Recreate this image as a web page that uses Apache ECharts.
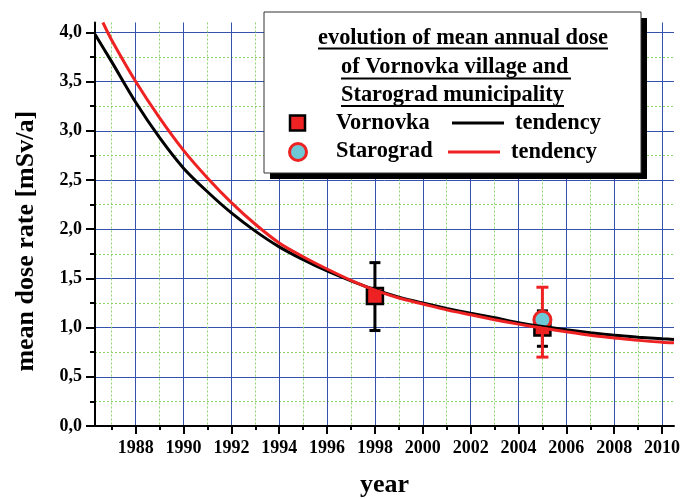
<!DOCTYPE html>
<html>
<head>
<meta charset="utf-8">
<script src="https://cdn.jsdelivr.net/npm/echarts@6/dist/echarts.min.js"></script>
<style>
  html, body { margin: 0; padding: 0; background: #fff; }
  #chart { width: 681px; height: 499px; }
</style>
</head>
<body>
<div id="chart"></div>
<script>
// tick positions
const majorYears = [1988, 1990, 1992, 1994, 1996, 1998, 2000, 2002, 2004, 2006, 2008, 2010];
const minorYears = [1987, 1989, 1991, 1993, 1995, 1997, 1999, 2001, 2003, 2005, 2007, 2009];
const majorDose = [0, 0.5, 1.0, 1.5, 2.0, 2.5, 3.0, 3.5, 4.0];
const minorDose = [0.25, 0.75, 1.25, 1.75, 2.25, 2.75, 3.25, 3.75];

// tendency curves
const blackYears = [1986.3, 1987, 1988, 1989, 1990, 1991, 1992, 1993, 1994, 1995, 1996, 1997, 1998,
  1999, 2000, 2001, 2002, 2003, 2004, 2005, 2006, 2007, 2008, 2009, 2010, 2010.5];
const blackDose = [3.98, 3.70, 3.29, 2.93, 2.62, 2.38, 2.165, 1.98, 1.82, 1.69, 1.575, 1.475, 1.385,
  1.31, 1.25, 1.195, 1.145, 1.10, 1.05, 1.01, 0.978, 0.948, 0.922, 0.903, 0.887, 0.88];
const redYears = [1986.63, 1987, 1988, 1989, 1990, 1991, 1992, 1993, 1994, 1995, 1996, 1997, 1998,
  1999, 2000, 2001, 2002, 2003, 2004, 2005, 2006, 2007, 2008, 2009, 2010, 2010.5];
const redDose = [4.10, 3.92, 3.50, 3.13, 2.80, 2.52, 2.27, 2.05, 1.86, 1.72, 1.595, 1.48, 1.38,
  1.30, 1.24, 1.18, 1.13, 1.08, 1.035, 0.995, 0.957, 0.922, 0.895, 0.87, 0.852, 0.845];

// measured points with error bars
const vornovkaYears = [1998, 2005];
const vornovkaDose = [1.32, 1.0];
const vornovkaLow = [0.97, 0.81];
const vornovkaHigh = [1.66, 1.17];
const starogradYears = [2005];
const starogradDose = [1.08];
const starogradLow = [0.70];
const starogradHigh = [1.41];

const FONT = 'Liberation Serif';
const pairs = (xs, ys) => xs.map((x, i) => [x, ys[i]]);
const bars = (xs, lo, hi) => xs.map((x, i) => [x, lo[i], hi[i]]);

function errorBar(color, cap) {
  return function (params, api) {
    const lo = api.coord([api.value(0), api.value(1)]);
    const hi = api.coord([api.value(0), api.value(2)]);
    const style = { stroke: color, lineWidth: 3 };
    return {
      type: 'group',
      children: [
        { type: 'line', shape: { x1: lo[0], y1: lo[1], x2: hi[0], y2: hi[1] }, style },
        { type: 'line', shape: { x1: lo[0] - cap, y1: lo[1], x2: lo[0] + cap, y2: lo[1] }, style },
        { type: 'line', shape: { x1: hi[0] - cap, y1: hi[1], x2: hi[0] + cap, y2: hi[1] }, style }
      ]
    };
  };
}

const labelStyle = { fontFamily: FONT, fontWeight: 'bold', fontSize: 18, color: '#000' };
const majorGrid = { show: true, lineStyle: { color: '#3550ad', width: 1 } };
const minorGrid = { show: true, lineStyle: { color: '#8ed46e', width: 1, type: [2, 2] } };

const txt = (x, y, text, size) => ({
  type: 'text', x, y, z: 102,
  style: { text, fontFamily: FONT, fontWeight: 'bold', fontSize: size, fill: '#000',
    align: 'left', verticalAlign: 'middle' }
});
const seg = (x1, y1, x2, y2, color, w) => ({
  type: 'line', z: 102, shape: { x1, y1, x2, y2 }, style: { stroke: color, lineWidth: w }
});

const options = {
  animation: false,
  backgroundColor: '#fff',
  grid: { left: 95, right: 7, top: 22.5, bottom: 73, outerBoundsMode: 'none', containLabel: false },
  xAxis: [
    {
      type: 'value', min: 1986.3, max: 2010.5, position: 'bottom',
      name: 'year', nameLocation: 'middle', nameGap: 46,
      nameTextStyle: { fontFamily: FONT, fontWeight: 'bold', fontSize: 26, color: '#000' },
      axisLine: { show: true, onZero: false, lineStyle: { color: '#000', width: 2 } },
      axisTick: { show: true, customValues: majorYears, length: 8, lineStyle: { color: '#000', width: 2 } },
      axisLabel: Object.assign({ customValues: majorYears, margin: 13, formatter: v => String(v) }, labelStyle),
      splitLine: majorGrid
    },
    {
      type: 'value', min: 1986.3, max: 2010.5, position: 'bottom',
      axisLine: { show: false },
      axisTick: { show: true, customValues: minorYears, length: 4, lineStyle: { color: '#000', width: 2 } },
      axisLabel: { show: false },
      splitLine: minorGrid
    }
  ],
  yAxis: [
    {
      type: 'value', min: 0, max: 4.1, position: 'left',
      name: 'mean dose rate [mSv/a]', nameLocation: 'middle', nameGap: 56,
      nameTextStyle: { fontFamily: FONT, fontWeight: 'bold', fontSize: 26, color: '#000',
        padding: [0, 34, 0, 0] },
      axisLine: { show: true, onZero: false, lineStyle: { color: '#000', width: 2 } },
      axisTick: { show: true, customValues: majorDose, length: 9, lineStyle: { color: '#000', width: 2 } },
      axisLabel: Object.assign({
        customValues: majorDose, margin: 13,
        formatter: v => v.toFixed(1).replace('.', ',')
      }, labelStyle),
      splitLine: majorGrid
    },
    {
      type: 'value', min: 0, max: 4.1, position: 'left',
      axisLine: { show: false },
      axisTick: { show: true, customValues: minorDose, length: 5, lineStyle: { color: '#000', width: 2 } },
      axisLabel: { show: false },
      splitLine: minorGrid
    }
  ],
  series: [
    {
      name: 'Vornovka error', type: 'custom', z: 3,
      renderItem: errorBar('#000', 5.5),
      data: bars(vornovkaYears, vornovkaLow, vornovkaHigh)
    },
    {
      name: 'Vornovka', type: 'scatter', z: 4,
      symbol: 'rect', symbolSize: 16,
      itemStyle: { color: '#ee2222', borderColor: '#000', borderWidth: 2.5, opacity: 1 },
      data: pairs(vornovkaYears, vornovkaDose)
    },
    {
      name: 'Starograd error', type: 'custom', z: 5,
      renderItem: errorBar('#ee2222', 6),
      data: bars(starogradYears, starogradLow, starogradHigh)
    },
    {
      name: 'Starograd', type: 'scatter', z: 6,
      symbol: 'circle', symbolSize: 17,
      itemStyle: { color: '#6ec8d6', borderColor: '#ee2222', borderWidth: 3, opacity: 1 },
      data: pairs(starogradYears, starogradDose)
    },
    {
      name: 'Vornovka tendency', type: 'line', z: 7, smooth: 0.3, showSymbol: false,
      clip: true, lineStyle: { color: '#000', width: 3 },
      data: pairs(blackYears, blackDose)
    },
    {
      name: 'Starograd tendency', type: 'line', z: 8, smooth: 0.3, showSymbol: false,
      clip: true, lineStyle: { color: '#ee2222', width: 3 },
      data: pairs(redYears, redDose)
    }
  ],
  graphic: [
    // legend box with drop shadow
    { type: 'rect', z: 100, shape: { x: 270, y: 18, width: 377, height: 161 }, style: { fill: '#000' } },
    { type: 'rect', z: 101, shape: { x: 264, y: 12, width: 377, height: 161 },
      style: { fill: '#fff', stroke: '#333', lineWidth: 1 } },
    txt(318, 38, 'evolution of mean annual dose', 22.4),
    seg(318, 48.5, 608, 48.5, '#000', 2),
    txt(341, 67, 'of Vornovka village and', 22.4),
    seg(341, 78.5, 571, 78.5, '#000', 2),
    txt(341, 95, 'Starograd municipality', 22.4),
    seg(341, 106, 564, 106, '#000', 2),
    { type: 'rect', z: 102, shape: { x: 290, y: 115.5, width: 15, height: 15 },
      style: { fill: '#ee2222', stroke: '#000', lineWidth: 2.5 } },
    txt(336, 123, 'Vornovka', 22.4),
    seg(452, 123, 504, 123, '#000', 3),
    txt(515, 123, 'tendency', 22.4),
    { type: 'circle', z: 102, shape: { cx: 298, cy: 152, r: 8.5 },
      style: { fill: '#6ec8d6', stroke: '#ee2222', lineWidth: 3 } },
    txt(336, 151, 'Starograd', 22.4),
    seg(448, 152, 500, 152, '#ee2222', 3),
    txt(511, 152, 'tendency', 22.4)
  ]
};

const chart = echarts.init(document.getElementById('chart'), null, { renderer: 'canvas' });
chart.setOption(options);
</script>
</body>
</html>
